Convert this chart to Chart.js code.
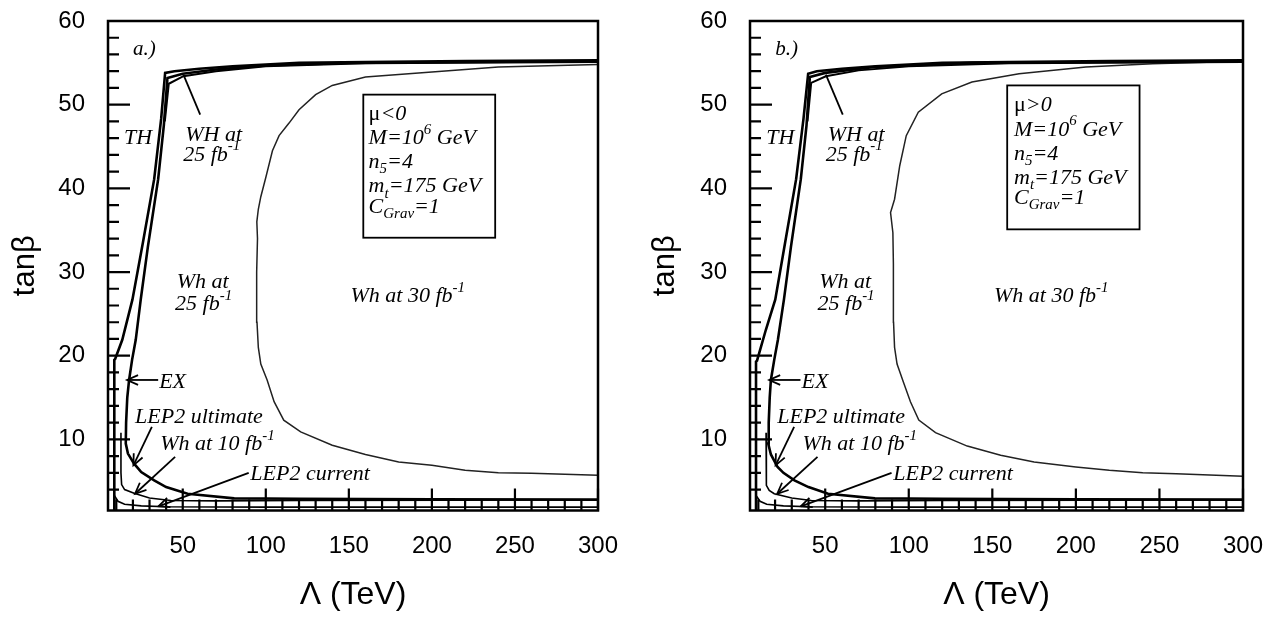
<!DOCTYPE html>
<html>
<head>
<meta charset="utf-8">
<script src="https://cdn.jsdelivr.net/npm/chart.js@4.4.1/dist/chart.umd.min.js"></script>
<style>
  html, body { margin: 0; padding: 0; background: #fff; }
  #wrap  { position: relative; width: 1281px; height: 619px; overflow: hidden; }
  canvas { position: absolute; top: 0; }
  #chartA { left: 0; }
  #chartB { left: 640px; }
</style>
</head>
<body>
<div id="wrap">
  <canvas id="chartA" width="640" height="619"></canvas>
  <canvas id="chartB" width="641" height="619"></canvas>
</div>
<script>
// ── Axes ──────────────────────────────────────────────────────────────────────
const X_MIN = 5, X_MAX = 300;
const Y_MIN = 1.5, Y_MAX = 60;
const xTickLabels = [50, 100, 150, 200, 250, 300];
const yTickLabels = [10, 20, 30, 40, 50, 60];
const xMinorTicks = [10, 20, 30, 40, 60, 70, 80, 90, 110, 120, 130, 140, 160, 170, 180, 190,
                     210, 220, 230, 240, 260, 270, 280, 290];
const yMinorTicks = [4, 6, 8, 12, 14, 16, 18, 22, 24, 26, 28, 32, 34, 36, 38,
                     42, 44, 46, 48, 52, 54, 56, 58];

// ── Panel a.) mu<0 — contour curves, [Lambda, tanBeta] ────────────────────────
const thA = [[8.8, 1.5], [8.8, 19.5], [9.3, 19.6], [13.6, 21.9], [19.7, 26.7], [26, 33.5],
             [32.8, 41.1], [37, 48.3], [39.4, 53.8], [45, 54.0], [60, 54.3], [80, 54.6],
             [120, 55.0], [160, 55.1], [220, 55.2], [300, 55.3]];
const exA = [[300, 2.8], [200, 2.85], [120, 2.9], [81, 2.95], [52.9, 3.5], [40, 4.3],
             [32.8, 5.1], [25, 6.1], [20.7, 7.1], [17, 8.3], [15.7, 9.5], [15.9, 12],
             [16.6, 15], [17.7, 17.1], [19.5, 19.5], [21.7, 21.9], [24.7, 26.7], [29, 33],
             [35.2, 41.1], [38.6, 47.5], [40.8, 53.2], [50, 53.7], [70, 54.2], [100, 54.7],
             [150, 55.0], [220, 55.1], [300, 55.2]];
const wh25A = [[39.2, 48], [41.6, 52.5], [50.4, 53.4], [70, 54.0], [100, 54.6], [160, 54.95],
               [300, 55.1]];
const wh10A = [[12.8, 10.8], [12.8, 6], [13.2, 4.6], [15, 4.0], [20.7, 3.55], [30, 3.0],
               [42.8, 2.7], [70, 2.65], [120, 2.7], [300, 2.75]];
const lep2A = [[8.8, 3.3], [11, 2.6], [15, 2.25], [25, 2.05], [40, 1.95], [100, 1.9], [300, 1.9]];
const wh30A = [[300, 5.7], [260, 5.95], [240, 6.0], [220, 6.3], [200, 6.9], [180, 7.3],
               [160, 8.2], [140, 9.3], [121, 10.9], [110.8, 12.3], [105, 14.5], [100.8, 17.1],
               [97, 19], [95.5, 21], [94.7, 24], [94.5, 30], [95, 34], [94.6, 36], [95.5, 37.5],
               [97, 39], [100, 41.3], [104, 44.5], [108, 46.3], [114, 47.8], [120, 49.4],
               [130, 51.2], [140, 52.3], [160, 53.3], [200, 53.9], [240, 54.5], [300, 54.8]];

// ── Panel b.) mu>0 ────────────────────────────────────────────────────────────
const thB = [[8.6, 1.5], [8.6, 19.3], [9.2, 19.4], [14.5, 23.1], [20.1, 26.7], [26, 33.5],
             [32.6, 41.1], [37, 48.3], [39.8, 53.7], [45, 54.0], [60, 54.3], [80, 54.6],
             [120, 55.0], [160, 55.1], [220, 55.2], [300, 55.3]];
const exB = [[300, 2.8], [200, 2.85], [120, 2.9], [79.8, 2.95], [51.7, 3.5], [40, 4.3],
             [31.6, 5.1], [25, 6.0], [21.5, 6.7], [17.5, 8.2], [15.9, 9.5], [16.2, 12],
             [16.8, 15], [17.5, 17.1], [19.5, 19.5], [21.7, 21.9], [25.3, 26.7], [29.5, 33],
             [35.4, 41.1], [38.8, 47.5], [40.8, 53.3], [50, 53.8], [79.5, 54.5], [137.8, 55.0],
             [220, 55.1], [300, 55.2]];
const wh25B = [[39.4, 48], [41.6, 52.6], [50.4, 53.4], [70, 54.1], [100, 54.6], [160, 54.95],
               [300, 55.1]];
const wh10B = [[14.6, 10.8], [14.6, 6], [15, 4.5], [16.5, 3.9], [19.5, 3.5], [30, 3.0],
               [41.7, 2.7], [70, 2.65], [120, 2.7], [300, 2.75]];
const lep2B = [[8.6, 3.3], [11, 2.6], [15, 2.25], [25, 2.05], [40, 1.95], [100, 1.9], [300, 1.9]];
const wh30B = [[300, 5.6], [260, 5.9], [240, 6.0], [220, 6.3], [200, 6.7], [175, 7.3],
               [155, 8.1], [135, 9.2], [116, 10.8], [106, 12.3], [101, 14.5], [96.5, 17],
               [93, 19], [91.5, 21], [90.9, 24], [90.9, 26.7], [90.7, 31], [90.5, 34.7],
               [89.1, 37.1], [91.5, 38.7], [94.6, 42.7], [98.5, 46.3], [105.7, 49.1],
               [119.7, 51.3], [137.8, 52.7], [166, 53.7], [206, 54.5], [246, 54.9], [300, 55.2]];

// ── Annotations (data units) ──────────────────────────────────────────────────
const sharedNotes = [
  { t: 'TH',                x: 14.7, y: 46.0 },
  { t: 'WH at',             x: 51.5, y: 46.4 },
  { t: '25 fb^{-1}',        x: 50.3, y: 44.0 },
  { t: 'Wh at',             x: 46.4, y: 28.75 },
  { t: '25 fb^{-1}',        x: 45.4, y: 26.1 },
  { t: 'Wh at 30 fb^{-1}',  x: 151,  y: 27.1 },
  { t: 'EX',                x: 35.8, y: 16.8 },
  { t: 'LEP2 ultimate',     x: 21.3, y: 12.7 },
  { t: 'Wh at 10 fb^{-1}',  x: 36.4, y: 9.4 },
  { t: 'LEP2 current',      x: 90.7, y: 5.8 },
];
const sharedArrows = [
  { x1: 60.5, y1: 48.8, x2: 50.4, y2: 53.6, head: false },
  { x1: 35.2, y1: 17.1, x2: 16.5, y2: 17.1, head: true },
  { x1: 31.4, y1: 11.5, x2: 20.3, y2: 6.9,  head: true },
  { x1: 45.4, y1: 7.9,  x2: 21.3, y2: 3.5,  head: true },
  { x1: 89.7, y1: 6.0,  x2: 35.4, y2: 2.0,  head: true },
];
const boxLinesA = ['~{μ}<0', 'M=10^{6} GeV', 'n_{5}=4', 'm_{t}=175 GeV', 'C_{Grav}=1'];
const boxLinesB = ['~{μ}>0', 'M=10^{6} GeV', 'n_{5}=4', 'm_{t}=175 GeV', 'C_{Grav}=1'];
const boxLineY  = [48.9, 46.0, 43.1, 40.2, 37.8];

// ── Drawing helpers ───────────────────────────────────────────────────────────
// ^{..} superscript, _{..} subscript, ~{..} upright
function drawRich(ctx, text, px, py, size) {
  const re = /([\^_~])\{([^}]*)\}|([^\^_~]+)/g;
  let m, cx = px;
  while ((m = re.exec(text))) {
    let s = m[3], fs = size, dy = 0, style = 'italic ';
    if (m[1] === '~') { s = m[2]; style = ''; }
    else if (m[1]) {
      s = m[2]; fs = size * 0.68;
      dy = m[1] === '^' ? -size * 0.38 : size * 0.32;
    }
    ctx.font = `${style}${fs}px "Liberation Serif", "DejaVu Serif", serif`;
    ctx.fillText(s, cx, py + dy);
    cx += ctx.measureText(s).width;
  }
}

function drawArrow(ctx, x1, y1, x2, y2, head) {
  ctx.beginPath(); ctx.moveTo(x1, y1); ctx.lineTo(x2, y2); ctx.stroke();
  if (!head) return;
  const a = Math.atan2(y2 - y1, x2 - x1), L = 12, w = 0.42;
  ctx.beginPath();
  ctx.moveTo(x2 - L * Math.cos(a - w), y2 - L * Math.sin(a - w));
  ctx.lineTo(x2, y2);
  ctx.lineTo(x2 - L * Math.cos(a + w), y2 - L * Math.sin(a + w));
  ctx.stroke();
}

// frame + inward ticks
const framePlugin = {
  id: 'frame',
  afterDraw(chart) {
    const { ctx, chartArea: a, scales: { x, y } } = chart;
    ctx.save();
    ctx.strokeStyle = '#000';
    ctx.lineWidth = 2.5;
    ctx.strokeRect(a.left, a.top, a.right - a.left, a.bottom - a.top);
    ctx.lineWidth = 2.2;
    ctx.beginPath();
    xTickLabels.forEach(v => { const p = x.getPixelForValue(v); ctx.moveTo(p, a.bottom); ctx.lineTo(p, a.bottom - 22); });
    xMinorTicks.forEach(v => { const p = x.getPixelForValue(v); ctx.moveTo(p, a.bottom); ctx.lineTo(p, a.bottom - 11); });
    yTickLabels.forEach(v => { const p = y.getPixelForValue(v); ctx.moveTo(a.left, p); ctx.lineTo(a.left + 22, p); });
    yMinorTicks.forEach(v => { const p = y.getPixelForValue(v); ctx.moveTo(a.left, p); ctx.lineTo(a.left + 11, p); });
    ctx.stroke();
    ctx.restore();
  }
};

// text labels, arrows and the parameter box
const notesPlugin = {
  id: 'notes',
  afterDatasetsDraw(chart, args, o) {
    const { ctx, scales: { x, y } } = chart;
    const X = v => x.getPixelForValue(v), Y = v => y.getPixelForValue(v);
    ctx.save();
    ctx.fillStyle = '#000';
    ctx.strokeStyle = '#000';
    ctx.textBaseline = 'middle';
    ctx.textAlign = 'left';
    drawRich(ctx, o.panel, X(20.1), Y(56.6), 21);
    o.notes.forEach(n => drawRich(ctx, n.t, X(n.x), Y(n.y), 22));
    ctx.lineWidth = 1.8;
    o.arrows.forEach(r => drawArrow(ctx, X(r.x1), Y(r.y1), X(r.x2), Y(r.y2), r.head));
    const b = o.box;
    ctx.lineWidth = 1.8;
    ctx.strokeRect(X(b.x0), Y(b.y0), X(b.x1) - X(b.x0), Y(b.y1) - Y(b.y0));
    o.lines.forEach((t, i) => drawRich(ctx, t, X(b.tx), Y(boxLineY[i] + b.dy), 22));
    ctx.restore();
  }
};

// ── Chart factory ─────────────────────────────────────────────────────────────
function curveSet(list) {
  return list.map(([pts, w, color]) => ({
    data: pts.map(([x, y]) => ({ x, y })),
    showLine: true, borderColor: color, borderWidth: w,
    pointRadius: 0, tension: 0, fill: false,
  }));
}

function noEdgePadding(s) {
  s.paddingTop = 0; s.paddingBottom = 0; s.paddingLeft = 0; s.paddingRight = 0;
}

function makeChart(id, curves, notes, leftW, rightPad) {
  const font = { family: '"Liberation Sans", Arial, sans-serif', size: 24 };
  return new Chart(document.getElementById(id), {
    type: 'scatter',
    data: { datasets: curveSet(curves) },
    options: {
      responsive: false,
      animation: false,
      layout: { padding: { top: 21, right: rightPad, bottom: 0, left: 0 } },
      plugins: { legend: { display: false }, tooltip: { enabled: false }, notes },
      scales: {
        x: {
          type: 'linear', min: X_MIN, max: X_MAX,
          afterBuildTicks: s => { s.ticks = xTickLabels.map(v => ({ value: v })); },
          afterFit: s => { s.height = 108.5; noEdgePadding(s); },
          grid: { display: false, drawTicks: false },
          border: { display: false },
          ticks: { color: '#000', font, padding: 21, maxRotation: 0, autoSkip: false },
          title: { display: true, text: 'Λ (TeV)', color: '#000',
                   font: { family: '"Liberation Sans", Arial, sans-serif', size: 32 },
                   padding: { top: 0, bottom: 5 } },
        },
        y: {
          type: 'linear', min: Y_MIN, max: Y_MAX,
          afterBuildTicks: s => { s.ticks = yTickLabels.map(v => ({ value: v })); },
          afterFit: s => { s.width = leftW; noEdgePadding(s); },
          grid: { display: false, drawTicks: false },
          border: { display: false },
          ticks: { color: '#000', font, padding: 23, autoSkip: false },
          title: { display: true, text: 'tanβ', color: '#000',
                   font: { family: '"Liberation Sans", Arial, sans-serif', size: 31 },
                   padding: { top: 7, bottom: 0 } },
        },
      },
    },
    plugins: [framePlugin, notesPlugin],
  });
}

makeChart('chartA',
  [[thA, 2.6, '#000'], [exA, 2.6, '#000'], [wh25A, 2, '#000'], [wh10A, 1.6, '#000'],
   [lep2A, 1.6, '#000'], [wh30A, 1.5, '#222']],
  { panel: 'a.)', notes: sharedNotes, arrows: sharedArrows, lines: boxLinesA,
    box: { x0: 158.7, y0: 51.2, x1: 238.1, y1: 34.1, tx: 161.9, dy: 0 } },
  108, 42);

makeChart('chartB',
  [[thB, 2.6, '#000'], [exB, 2.6, '#000'], [wh25B, 2, '#000'], [wh10B, 1.6, '#000'],
   [lep2B, 1.6, '#000'], [wh30B, 1.5, '#222']],
  { panel: 'b.)', notes: sharedNotes, arrows: sharedArrows, lines: boxLinesB,
    box: { x0: 158.9, y0: 52.3, x1: 238.1, y1: 35.1, tx: 163, dy: 1.0 } },
  110, 38);
</script>
</body>
</html>
